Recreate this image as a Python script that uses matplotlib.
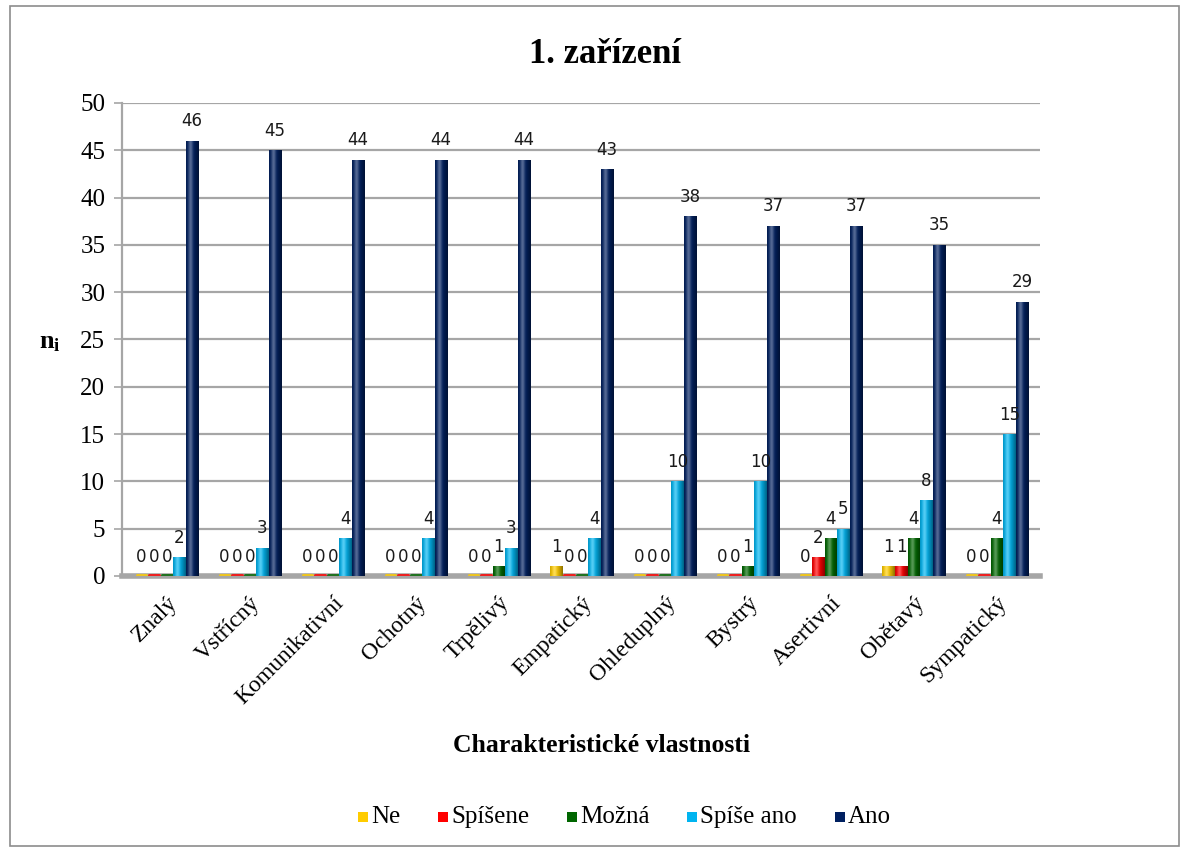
import numpy as np
import matplotlib.pyplot as plt
import matplotlib.colors as mcolors
from matplotlib.patches import Rectangle

# Hodnoty pro jednotlivé vlastnosti
vlastnosti = ['Znalý', 'Vstřícný', 'Komunikativní', 'Ochotný', 'Trpělivý', 'Empatický',
              'Ohleduplný', 'Bystrý', 'Asertivní', 'Obětavý', 'Sympatický']
ne = [0, 0, 0, 0, 0, 1, 0, 0, 0, 1, 0]
spise_ne = [0, 0, 0, 0, 0, 0, 0, 0, 2, 1, 0]
mozna = [0, 0, 0, 0, 1, 0, 0, 1, 4, 4, 4]
spise_ano = [2, 3, 4, 4, 3, 4, 10, 10, 5, 8, 15]
ano = [46, 45, 44, 44, 44, 43, 38, 37, 37, 35, 29]

serie = [('Ne', ne, '#FFCC00'),
         ('Spíšene', spise_ne, '#FF0000'),
         ('Možná', mozna, '#006600'),
         ('Spíše ano', spise_ano, '#00B4F0'),
         ('Ano', ano, '#002060')]

plt.rcParams['font.family'] = ['Liberation Serif', 'DejaVu Serif']
plt.rcParams['mathtext.fontset'] = 'custom'
plt.rcParams['mathtext.bf'] = 'Liberation Serif:bold'
plt.rcParams['mathtext.rm'] = 'Liberation Serif'

W, H = 1189, 850
fig = plt.figure(figsize=(W / 100, H / 100), dpi=100)
ax = fig.add_axes([0.1026, 0.3224, 0.772, 0.5565])

# rámeček kolem celého grafu
fig.patches.append(Rectangle((0.008, 0.005), 0.984, 0.988, transform=fig.transFigure,
                             fill=False, edgecolor='#8C8C8C', linewidth=1.2))

x = np.arange(len(vlastnosti))
krok = 0.153
sirka = 0.145


def valec(ax, xc, h, barva):
    # sloupec se stínováním jako válec
    base = np.array(mcolors.to_rgb(barva))
    t = np.linspace(0, 1, 40)
    light = 0.55 * np.exp(-((t - 0.35) / 0.18) ** 2)
    shade = 1 - 0.45 * (np.abs(t - 0.35) / 0.65) ** 1.5
    rgb = np.clip(base[None, :] * shade[:, None] + light[:, None] * (1 - base[None, :]) * 0.6, 0, 1)
    img = rgb[None, :, :]
    rect = Rectangle((xc - sirka / 2, 0), sirka, h, facecolor='none', edgecolor='none')
    ax.add_patch(rect)
    im = ax.imshow(img, extent=(xc - sirka / 2, xc + sirka / 2, 0, h), aspect='auto',
                   interpolation='bilinear', zorder=3)
    im.set_clip_path(rect)


for k, (nazev, hodnoty, barva) in enumerate(serie):
    pozice = x + (k - 2) * krok
    for xc, h in zip(pozice, hodnoty):
        if h > 0:
            valec(ax, xc, h, barva)
        else:
            ax.plot([xc - sirka / 2.5, xc + sirka / 2.5], [0.12, 0.12], color=barva,
                    linewidth=2.2, solid_capstyle='round', zorder=3, alpha=0.8)
        ax.annotate(str(h), (xc, h), xytext=(0, 14), textcoords='offset points',
                    ha='center', va='center', fontsize=12, family='DejaVu Sans',
                    color='#1A1A1A', zorder=5)

ax.set_xlim(-0.54, 10.52)
ax.set_ylim(0, 50)
ax.set_yticks(range(0, 51, 5))
ax.yaxis.grid(True, color='#A6A6A6', linewidth=1.6)
ax.set_axisbelow(True)
ax.tick_params(axis='y', labelsize=18, length=6, width=1.2, color='#A6A6A6', pad=6)
ax.tick_params(axis='x', length=0, pad=12)
ax.set_xticks(x)
ax.set_xticklabels(vlastnosti, rotation=45, ha='right', rotation_mode='anchor', fontsize=17)
for s in ['top', 'right']:
    ax.spines[s].set_visible(False)
ax.spines['left'].set_color('#A6A6A6')
ax.spines['left'].set_linewidth(1.6)
ax.spines['bottom'].set_color('#A6A6A6')
ax.spines['bottom'].set_linewidth(4)

fig.text(0.509, 0.936, '1. zařízení', ha='center', va='center', fontsize=25, fontweight='bold')
fig.text(0.042, 0.596, r'$\mathbf{n_i}$', ha='center', va='center', fontsize=19)
fig.text(0.506, 0.1235, 'Charakteristické vlastnosti', ha='center', va='center',
         fontsize=18.5, fontweight='bold')

# legenda skládaná ručně, aby texty seděly na stejné účaří
leg_x = [358, 438, 567, 687, 835]
for lx, (nazev, _, barva) in zip(leg_x, serie):
    fig.patches.append(Rectangle((lx / W, 1 - 822 / H), 10 / W, 10 / H,
                                 transform=fig.transFigure, facecolor=barva, edgecolor='none'))
    fig.text((lx + 13) / W, 1 - 823 / H, nazev, ha='left', va='baseline', fontsize=18)

fig.savefig('out.png', dpi=100)
plt.close(fig)
